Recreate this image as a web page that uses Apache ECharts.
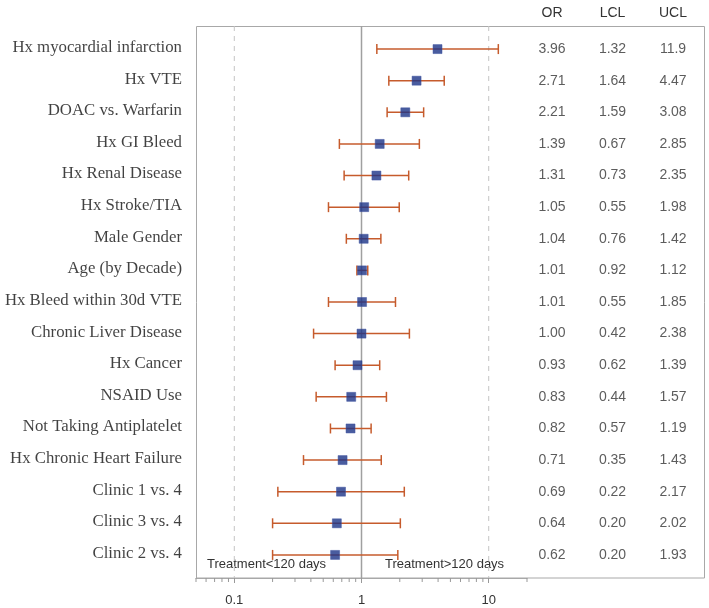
<!DOCTYPE html>
<html><head><meta charset="utf-8">
<script src="https://cdn.jsdelivr.net/npm/echarts@6/dist/echarts.min.js"></script>
<style>html,body{margin:0;padding:0;background:#fff}#c{width:709px;height:608px}</style>
</head><body><div id="c"></div>
<script>
const categories = ['Hx myocardial infarction','Hx VTE','DOAC vs. Warfarin','Hx GI Bleed','Hx Renal Disease','Hx Stroke/TIA','Male Gender','Age (by Decade)','Hx Bleed within 30d VTE','Chronic Liver Disease','Hx Cancer','NSAID Use','Not Taking Antiplatelet','Hx Chronic Heart Failure','Clinic 1 vs. 4','Clinic 3 vs. 4','Clinic 2 vs. 4'];
const orValues  = [3.96,2.71,2.21,1.39,1.31,1.05,1.04,1.01,1.01,1.00,0.93,0.83,0.82,0.71,0.69,0.64,0.62];
const lclValues = [1.32,1.64,1.59,0.67,0.73,0.55,0.76,0.92,0.55,0.42,0.62,0.44,0.57,0.35,0.22,0.20,0.20];
const uclValues = [11.9,4.47,3.08,2.85,2.35,1.98,1.42,1.12,1.85,2.38,1.39,1.57,1.19,1.43,2.17,2.02,1.93];
const tableColumns = ['OR','LCL','UCL'];
const xTickLabels = [0.1, 1, 10];
const minorTickValues = [0.05,0.06,0.07,0.08,0.09,0.2,0.3,0.4,0.5,0.6,0.7,0.8,0.9,2,3,4,5,6,7,8,9,20];
const dashedRefLines = [0.1, 10];
const solidRefLines = [1];
const xMin = 0.05, xMax = 20;
const annotations = ['Treatment<120 days','Treatment>120 days'];

const yMin = -0.73, yMax = categories.length - 1 + 0.73;
const fmt = v => v >= 10 ? v.toFixed(1) : v.toFixed(2);
const SANS = "'Liberation Sans', Arial, sans-serif";
const SERIF = "'Liberation Serif', 'Times New Roman', serif";

const tableData = [];
categories.forEach((c, i) => {
  [orValues, lclValues, uclValues].forEach((arr, j) => tableData.push([j, i, arr[i]]));
});
const refData = dashedRefLines.map(v => [v, 0]).concat(solidRefLines.map(v => [v, 1]));

const chart = echarts.init(document.getElementById('c'), null, {renderer: 'canvas'});
chart.setOption({
  animation: false,
  grid: [
    {left: 196, top: 26, width: 331, height: 552},
    {left: 521.75, top: 26, width: 181.5, height: 552}
  ],
  xAxis: [
    {
      type: 'log', logBase: 10, min: xMin, max: xMax, gridIndex: 0, position: 'bottom',
      axisLine: {onZero: false, lineStyle: {color: '#a8a8a8', width: 1}},
      axisTick: {show: true, length: 5, lineStyle: {color: '#999'}},
      splitLine: {show: false},
      axisLabel: {
        margin: 16, fontSize: 13, color: '#333', fontFamily: SANS,
        showMinLabel: false, showMaxLabel: false,
        formatter: v => {
          const t = xTickLabels.find(t => Math.abs(Math.log10(v) - Math.log10(t)) < 1e-6);
          return t === undefined ? '' : String(t);
        }
      }
    },
    {
      type: 'category', data: tableColumns, gridIndex: 1, position: 'top',
      axisLine: {show: false, onZero: false}, axisTick: {show: false}, splitLine: {show: false},
      axisLabel: {margin: 6, fontSize: 14, color: '#333', fontFamily: SANS}
    }
  ],
  yAxis: [
    {type: 'value', gridIndex: 0, min: yMin, max: yMax, inverse: true, show: false, axisLine: {onZero: false}},
    {type: 'value', gridIndex: 1, min: yMin, max: yMax, inverse: true, show: false, axisLine: {onZero: false}}
  ],
  graphic: [
    {type: 'rect', shape: {x: 196.5, y: 26.5, width: 508, height: 551.5},
     style: {fill: 'none', stroke: '#a8a8a8', lineWidth: 1}, z: 0, silent: true},
    {type: 'text', left: 207, top: 558, style: {text: annotations[0], font: "13px 'Liberation Sans', Arial, sans-serif", fill: '#333'}},
    {type: 'text', left: 385, top: 558, style: {text: annotations[1], font: "13px 'Liberation Sans', Arial, sans-serif", fill: '#333'}}
  ],
  series: [
    {
      type: 'custom', xAxisIndex: 0, yAxisIndex: 0, clip: false, silent: true, z: 1,
      data: refData,
      renderItem: (params, api) => {
        const p = api.coord([api.value(0), 0]);
        const cs = params.coordSys;
        const solid = api.value(1) === 1;
        return {type: 'line', shape: {x1: p[0], y1: cs.y, x2: p[0], y2: cs.y + cs.height},
          style: solid ? {stroke: '#a0a0a0', lineWidth: 1.5} : {stroke: '#c4c4c4', lineWidth: 1, lineDash: [5, 5]}};
      }
    },
    {
      type: 'custom', xAxisIndex: 0, yAxisIndex: 0, clip: false, silent: true, z: 1,
      data: minorTickValues.map(v => [v, 0]),
      renderItem: (params, api) => {
        const p = api.coord([api.value(0), 0]);
        const cs = params.coordSys;
        const yb = cs.y + cs.height;
        return {type: 'line', shape: {x1: p[0], y1: yb, x2: p[0], y2: yb + 4}, style: {stroke: '#999', lineWidth: 1}};
      }
    },
    {
      type: 'custom', xAxisIndex: 0, yAxisIndex: 0, z: 2, silent: true,
      data: categories.map((c, i) => [i, lclValues[i], uclValues[i]]),
      encode: {x: [1, 2], y: 0},
      renderItem: (params, api) => {
        const y = api.value(0);
        const a = api.coord([api.value(1), y]);
        const b = api.coord([api.value(2), y]);
        const st = {stroke: '#c65b2c', lineWidth: 1.5};
        return {type: 'group', children: [
          {type: 'line', shape: {x1: a[0], y1: a[1], x2: b[0], y2: b[1]}, style: st},
          {type: 'line', shape: {x1: a[0], y1: a[1] - 5, x2: a[0], y2: a[1] + 5}, style: st},
          {type: 'line', shape: {x1: b[0], y1: b[1] - 5, x2: b[0], y2: b[1] + 5}, style: st}
        ]};
      }
    },
    {
      type: 'scatter', xAxisIndex: 0, yAxisIndex: 0, z: 3, silent: true,
      symbol: 'rect', symbolSize: 9,
      itemStyle: {color: '#1c3387', borderColor: '#3b509f', borderWidth: 0.6},
      data: orValues.map((v, i) => [v, i])
    },
    {
      type: 'scatter', xAxisIndex: 0, yAxisIndex: 0, z: 3, silent: true, clip: false,
      symbolSize: 0,
      data: categories.map((c, i) => [xMin, i]),
      label: {show: true, position: 'left', distance: 14, formatter: p => categories[p.dataIndex],
              fontFamily: SERIF, fontSize: 16.8, color: '#111', offset: [0, -1.5]}
    },
    {
      type: 'scatter', xAxisIndex: 1, yAxisIndex: 1, z: 3, silent: true, clip: false,
      symbolSize: 0,
      data: tableData,
      label: {show: true, position: 'inside', formatter: p => fmt(p.value[2]),
              fontFamily: SANS, fontSize: 14, color: '#333'}
    }
  ]
});
</script></body></html>
